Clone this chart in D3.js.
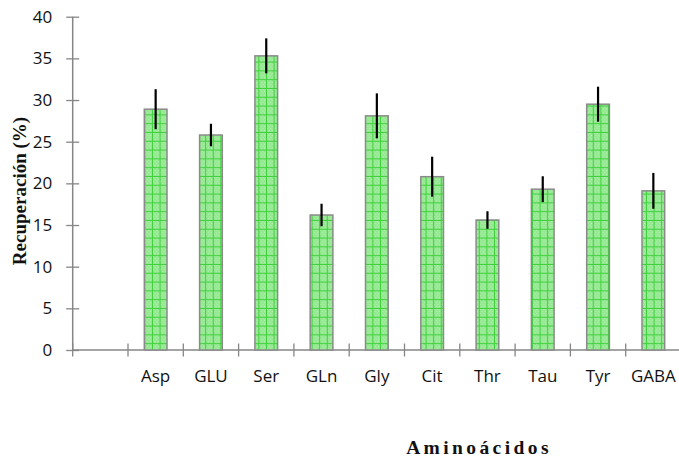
<!DOCTYPE html>
<html>
<head>
<meta charset="utf-8">
<script src="https://cdn.jsdelivr.net/npm/d3@7"></script>
<style>
  html, body { margin: 0; padding: 0; background: #fff; }
  svg { display: block; }
</style>
</head>
<body>
<svg id="chart" width="679" height="457"></svg>
<script>
// Recuperación media (%) por aminoácido, con su desviación
const categories = ["", "Asp", "GLU", "Ser", "GLn", "Gly", "Cit", "Thr", "Tau", "Tyr", "GABA"];
const recovery   = [null, 28.9, 25.8, 35.3, 16.2, 28.1, 20.8, 15.6, 19.3, 29.5, 19.1];
const deviation  = [null, 2.4, 1.35, 2.1, 1.35, 2.7, 2.4, 1.05, 1.55, 2.1, 2.15];
const yTicks     = [0, 5, 10, 15, 20, 25, 30, 35, 40];

const svg = d3.select("#chart");
const axisColor = "#868686";

const x = d3.scaleBand().domain(categories).range([72.7, 681]).padding(0);
const y = d3.scaleLinear().domain([0, 40]).range([350, 16.7]);

// Bar fill: light green with a fine dotted texture and a green grid
const defs = svg.append("defs");
const pat = defs.append("pattern")
  .attr("id", "greenGrid")
  .attr("patternUnits", "userSpaceOnUse")
  .attr("width", 7.6).attr("height", 8.8);
pat.append("rect").attr("width", 7.6).attr("height", 8.8).attr("fill", "#93e890");
for (let i = 0; i < 4; i++) {
  for (let j = 0; j < 4; j++) {
    if ((i + j) % 2 === 0) {
      pat.append("rect")
        .attr("x", 1 + i * 1.6).attr("y", 1 + j * 1.9)
        .attr("width", 0.9).attr("height", 0.9)
        .attr("fill", "#c8f6c4");
    }
  }
}
pat.append("line").attr("x1", 0).attr("x2", 7.6).attr("y1", 0.5).attr("y2", 0.5)
  .attr("stroke", "#3fd03c").attr("stroke-width", 1);
pat.append("line").attr("x1", 0.5).attr("x2", 0.5).attr("y1", 0).attr("y2", 8.8)
  .attr("stroke", "#3fd03c").attr("stroke-width", 1);

// Y axis
const yAxis = d3.axisLeft(y).tickValues(yTicks).tickSize(0).tickPadding(0);
const gy = svg.append("g").attr("transform", `translate(${x.range()[0]},0)`).call(yAxis);
gy.select(".domain").remove();
gy.selectAll(".tick text")
  .attr("x", -20.5)
  .attr("font-family", "'Open Sans', sans-serif")
  .attr("font-size", 17)
  .attr("fill", "#111");
gy.selectAll(".tick").append("line")
  .attr("x1", -6.5).attr("x2", 6.5)
  .attr("stroke", axisColor).attr("stroke-width", 1.3);
svg.append("line")
  .attr("x1", x.range()[0]).attr("x2", x.range()[0])
  .attr("y1", y(40)).attr("y2", y(0))
  .attr("stroke", axisColor).attr("stroke-width", 1.5);

// X axis: category boundaries carry the ticks
const boundaries = categories.map(c => x(c));
svg.append("line")
  .attr("x1", x.range()[0]).attr("x2", x.range()[1])
  .attr("y1", y(0)).attr("y2", y(0))
  .attr("stroke", axisColor).attr("stroke-width", 1.5);
svg.append("g").selectAll("line").data(boundaries).join("line")
  .attr("x1", d => d).attr("x2", d => d)
  .attr("y1", y(0) - 6.5).attr("y2", y(0) + 6.5)
  .attr("stroke", axisColor).attr("stroke-width", 1.3);

svg.append("g").selectAll("text").data(categories.filter(c => c)).join("text")
  .attr("x", d => x(d) + x.bandwidth() / 2)
  .attr("y", 381.5)
  .attr("text-anchor", "middle")
  .attr("font-family", "'Open Sans', sans-serif")
  .attr("font-size", 17)
  .attr("fill", "#111")
  .text(d => d);

// Bars
const data = categories.map((c, i) => ({ c, v: recovery[i], e: deviation[i] })).filter(d => d.v !== null);
const barW = 22.7;
svg.append("g").selectAll("rect").data(data).join("rect")
  .attr("x", d => x(d.c) + x.bandwidth() / 2 - barW / 2)
  .attr("y", d => y(d.v))
  .attr("width", barW)
  .attr("height", d => y(0) - y(d.v))
  .attr("fill", "url(#greenGrid)")
  .attr("stroke", "#8a8a8a")
  .attr("stroke-width", 1.5);

// Error bars
svg.append("g").selectAll("line").data(data).join("line")
  .attr("x1", d => x(d.c) + x.bandwidth() / 2)
  .attr("x2", d => x(d.c) + x.bandwidth() / 2)
  .attr("y1", d => y(d.v + d.e))
  .attr("y2", d => y(d.v - d.e))
  .attr("stroke", "#000")
  .attr("stroke-width", 2.2);

// Axis titles
svg.append("text")
  .attr("transform", "translate(26,191) rotate(-90)")
  .attr("text-anchor", "middle")
  .attr("font-family", "'Liberation Serif', 'Times New Roman', serif")
  .attr("font-weight", "bold")
  .attr("font-size", 19)
  .attr("fill", "#111")
  .text("Recuperación (%)");

svg.append("text")
  .attr("x", 479)
  .attr("y", 453.5)
  .attr("text-anchor", "middle")
  .attr("font-family", "'Liberation Serif', 'Times New Roman', serif")
  .attr("font-weight", "bold")
  .attr("font-size", 19.5)
  .attr("letter-spacing", 3.4)
  .attr("fill", "#111")
  .text("Aminoácidos");
</script>
</body>
</html>
